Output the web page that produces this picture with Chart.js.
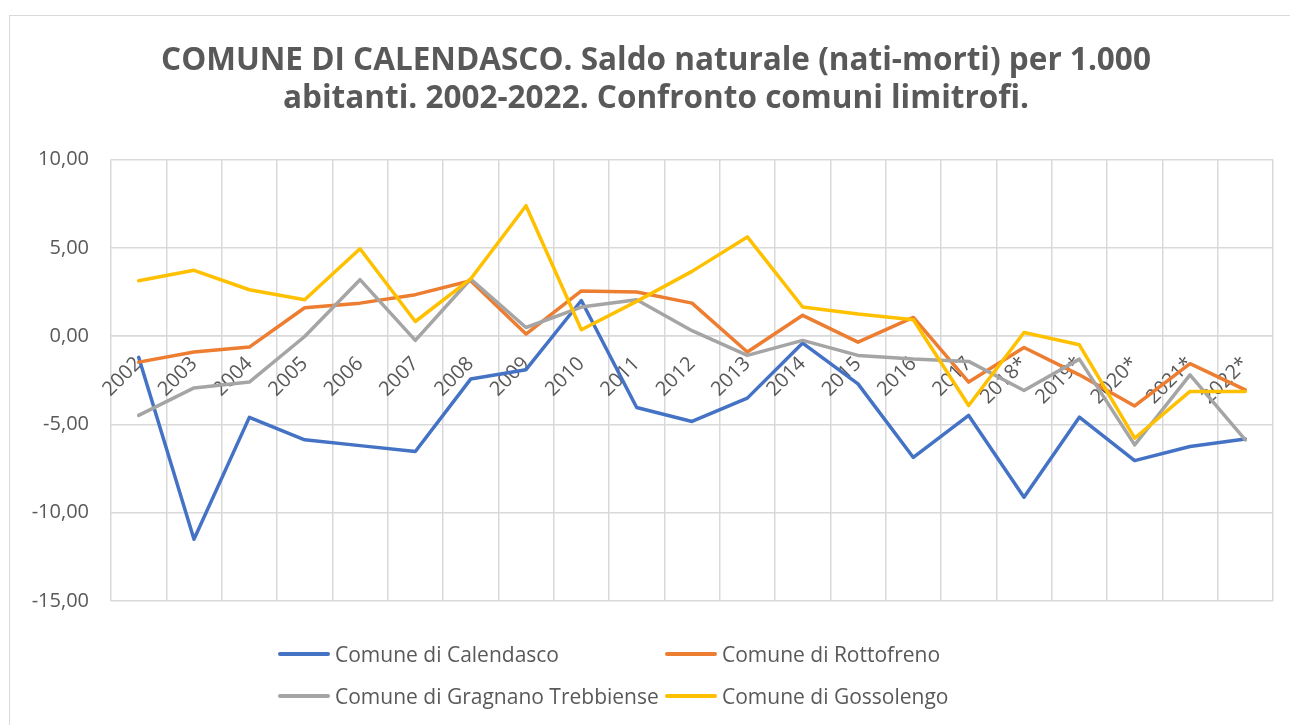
<!DOCTYPE html>
<html>
<head>
<meta charset="utf-8">
<script src="https://cdn.jsdelivr.net/npm/chart.js@4.4.0/dist/chart.umd.min.js"></script>
<style>
  body { margin: 0; background: #fff; overflow: hidden; }
  #wrap { position: relative; width: 1290px; height: 725px; }
  #legend { position: absolute; left: 278px; top: 642px; width: 800px;
            display: grid; grid-template-columns: 387px 387px; row-gap: 18px;
            font-family: "Open Sans", sans-serif; font-size: 21px; color: #595959; }
  #legend .item { display: flex; align-items: center; height: 24px; white-space: nowrap; }
  #legend .line { width: 52px; height: 4px; margin-right: 5px; border-radius: 2px; }
</style>
</head>
<body>
<div id="wrap">
  <canvas id="chart" width="1290" height="725"></canvas>
  <div id="legend"></div>
</div>
<script>
const years = ["2002", "2003", "2004", "2005", "2006", "2007", "2008", "2009", "2010", "2011",
    "2012", "2013", "2014", "2015", "2016", "2017", "2018*", "2019*", "2020*", "2021*", "2022*"];

const calendasco = [-1.20, -11.50, -4.60, -5.87, -6.20, -6.53, -2.43, -1.90, 2.02, -4.04,
    -4.83, -3.51, -0.39, -2.70, -6.87, -4.49, -9.12, -4.59, -7.05, -6.25, -5.83];
const rottofreno = [-1.47, -0.90, -0.62, 1.61, 1.87, 2.35, 3.14, 0.12, 2.56, 2.50,
    1.87, -0.90, 1.18, -0.34, 1.06, -2.60, -0.64, -2.19, -3.95, -1.56, -3.04];
const gragnano = [-4.49, -2.93, -2.60, -0.02, 3.20, -0.24, 3.24, 0.49, 1.65, 2.06,
    0.31, -1.09, -0.24, -1.09, -1.30, -1.43, -3.08, -1.30, -6.16, -2.19, -5.87];
const gossolengo = [3.14, 3.73, 2.63, 2.06, 4.95, 0.83, 3.24, 7.39, 0.36, 1.97,
    3.67, 5.62, 1.65, 1.25, 0.93, -3.93, 0.21, -0.49, -5.78, -3.13, -3.13];

const seriesNames = ["Comune di Calendasco", "Comune di Rottofreno",
    "Comune di Gragnano Trebbiense", "Comune di Gossolengo"];
const seriesColors = ["#4472C4", "#ED7D31", "#A5A5A5", "#FFC000"];
const seriesData = [calendasco, rottofreno, gragnano, gossolengo];

const yTicks = [10, 5, 0, -5, -10, -15];

const grey = "#595959";
const gridColor = "#d9d9d9";

// cornice del grafico, come in Excel
const frame = {
    id: "frame",
    beforeDraw(chart) {
        const ctx = chart.ctx;
        ctx.save();
        ctx.strokeStyle = gridColor;
        ctx.lineWidth = 1;
        ctx.strokeRect(9.5, 15.5, 1400, 800);
        ctx.restore();
    }
};

const datasets = seriesData.map((d, i) => ({
    label: seriesNames[i],
    data: d,
    borderColor: seriesColors[i],
    backgroundColor: seriesColors[i],
    borderWidth: 3.5,
    pointRadius: 0,
    tension: 0,
    borderJoinStyle: "round",
    borderCapStyle: "round",
    order: seriesData.length - i
}));

new Chart(document.getElementById("chart"), {
    type: "line",
    data: { labels: years, datasets: datasets },
    plugins: [frame],
    options: {
        responsive: false,
        animation: false,
        layout: { padding: { left: 39, right: 17, top: 4, bottom: 124 } },
        plugins: {
            legend: { display: false },
            tooltip: { enabled: false },
            title: {
                display: true,
                text: ["COMUNE DI CALENDASCO. Saldo naturale (nati-morti) per 1.000",
                       "abitanti. 2002-2022. Confronto comuni limitrofi."],
                color: grey,
                font: { family: "Open Sans", size: 31.5, weight: "bold", lineHeight: 1.2 },
                padding: { top: 38, bottom: 42 }
            }
        },
        scales: {
            x: {
                type: "category",
                position: { y: 0 },
                offset: true,
                grid: { color: gridColor, offset: true, drawTicks: false, lineWidth: 1.5 },
                border: { color: gridColor, width: 1.5 },
                ticks: {
                    color: grey,
                    font: { family: "Open Sans", size: 20 },
                    minRotation: 45,
                    maxRotation: 45,
                    autoSkip: false,
                    padding: 16
                }
            },
            y: {
                min: -15,
                max: 10,
                afterFit(scale) {
                    scale.width = 72;
                    // le etichette lunghe ("-15,00") non devono essere tagliate
                    scale._computeLabelArea = () => undefined;
                },
                afterBuildTicks(scale) { scale.ticks = yTicks.map(v => ({ value: v })); },
                grid: { color: gridColor, drawTicks: false, lineWidth: 1.5 },
                border: { display: false },
                ticks: {
                    color: grey,
                    font: { family: "Open Sans", size: 20 },
                    padding: 22,
                    callback: v => v.toFixed(2).replace(".", ",")
                }
            }
        }
    }
});

const legend = document.getElementById("legend");
seriesNames.forEach((name, i) => {
    legend.innerHTML += `<div class="item"><span class="line" style="background:${seriesColors[i]}"></span>${name}</div>`;
});
</script>
</body>
</html>
